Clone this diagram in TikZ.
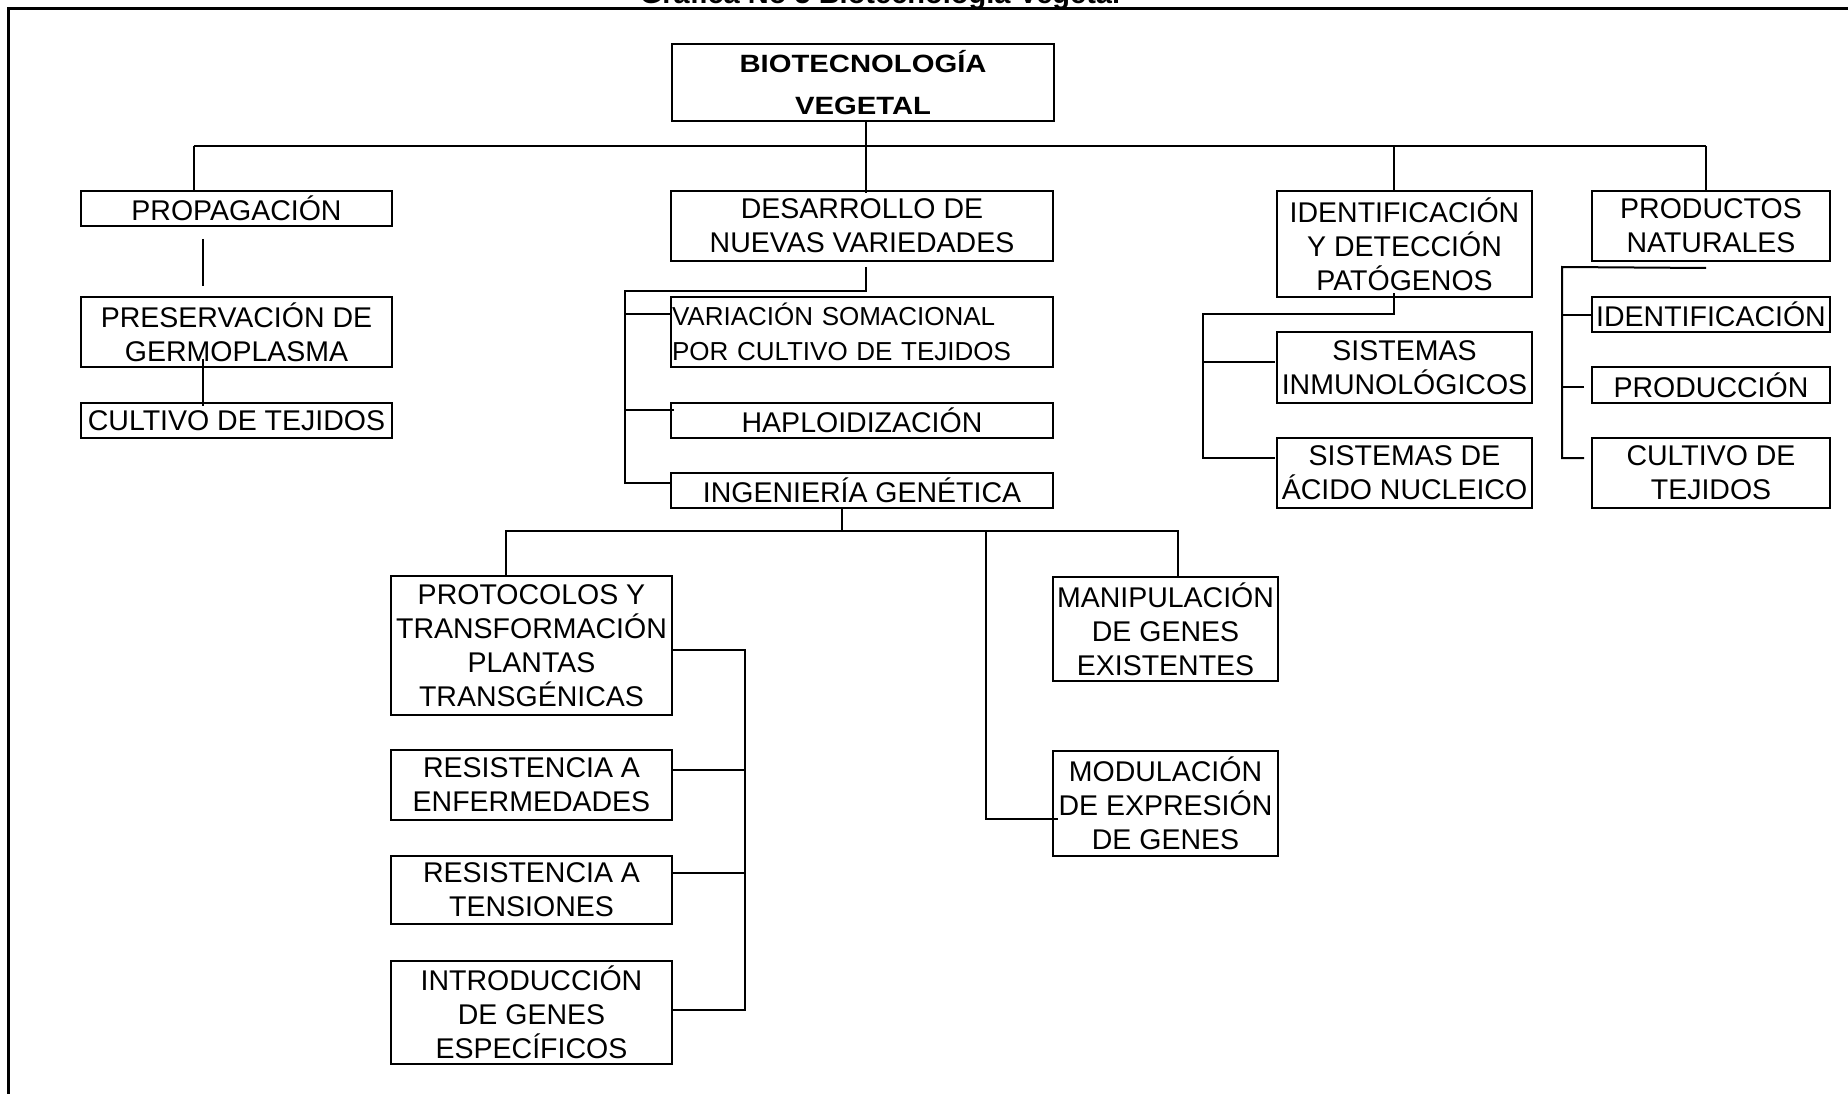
\documentclass[tikz,border=0pt]{standalone}
\usepackage{fontspec}
\setmainfont{Liberation Sans}
\newfontfamily\rootfont{Liberation Sans}[FakeStretch=1.17]

\begin{document}
\begin{tikzpicture}[x=1pt, y=-1pt,
		box/.style={draw, line width=2pt, inner sep=0pt, align=center, font=\fontsize{28.5}{34}\selectfont},
		link/.style={line width=2pt}]
	\useasboundingbox (0,0) rectangle (1848,1094);
	\node[anchor=base, font=\fontsize{29}{34}\selectfont\bfseries] (title) at (880,4) {Gráfica No 5 Biotecnología Vegetal};
	\draw[line width=3pt] (8,1094) -- (8,9) -- (1848,9);

	\node[box, minimum width=382pt, minimum height=77pt, font=\rootfont\bfseries\fontsize{25}{42}\selectfont] (root) at (863,82.5) {BIOTECNOLOGÍA\\VEGETAL};

	\node[box, minimum width=311pt, minimum height=35pt] (prop) at (236.5,208.5) {PROPAGACIÓN};
	\node[box, minimum width=382pt, minimum height=70pt] (desa) at (862,226) {DESARROLLO DE\\NUEVAS VARIEDADES};
	\node[box, minimum width=255pt, minimum height=106pt] (iden) at (1404.5,244) {IDENTIFICACIÓN\\Y DETECCIÓN\\PATÓGENOS};
	\node[box, minimum width=238pt, minimum height=70pt] (prod) at (1711,226) {PRODUCTOS\\NATURALES};

	\node[box, minimum width=311pt, minimum height=70pt] (pres) at (236.5,332) {PRESERVACIÓN DE\\GERMOPLASMA};
	\node[box, minimum width=311pt, minimum height=35pt] (cult) at (236.5,420.5) {CULTIVO DE TEJIDOS};

	\node[box, minimum width=382pt, minimum height=70pt, text width=380pt, align=left, font=\fontsize{26}{35}\selectfont] (vari) at (862,332) {VARIACIÓN SOMACIONAL\\POR CULTIVO DE TEJIDOS};
	\node[box, minimum width=382pt, minimum height=35pt] (hapl) at (862,420.5) {HAPLOIDIZACIÓN};
	\node[box, minimum width=382pt, minimum height=35pt] (inge) at (862,490.5) {INGENIERÍA GENÉTICA};

	\node[box, minimum width=255pt, minimum height=71pt] (inmu) at (1404.5,367.5) {SISTEMAS\\INMUNOLÓGICOS};
	\node[box, minimum width=255pt, minimum height=70pt] (acid) at (1404.5,473) {SISTEMAS DE\\ÁCIDO NUCLEICO};

	\node[box, minimum width=238pt, minimum height=35pt] (pide) at (1711,314.5) {IDENTIFICACIÓN};
	\node[box, minimum width=238pt, minimum height=36pt] (pprd) at (1711,385) {PRODUCCIÓN};
	\node[box, minimum width=238pt, minimum height=70pt] (pcul) at (1711,473) {CULTIVO DE\\TEJIDOS};

	\node[box, minimum width=281pt, minimum height=139pt] (prot) at (531.5,645.5) {PROTOCOLOS Y\\TRANSFORMACIÓN\\PLANTAS\\TRANSGÉNICAS};
	\node[box, minimum width=281pt, minimum height=70pt] (renf) at (531.5,785) {RESISTENCIA A\\ENFERMEDADES};
	\node[box, minimum width=281pt, minimum height=68pt] (rten) at (531.5,890) {RESISTENCIA A\\TENSIONES};
	\node[box, minimum width=281pt, minimum height=103pt] (intr) at (531.5,1012.5) {INTRODUCCIÓN\\DE GENES\\ESPECÍFICOS};

	\node[box, minimum width=225pt, minimum height=104pt] (mani) at (1165.5,629) {MANIPULACIÓN\\DE GENES\\EXISTENTES};
	\node[box, minimum width=225pt, minimum height=105pt] (modu) at (1165.5,803.5) {MODULACIÓN\\DE EXPRESIÓN\\DE GENES};

	% first level
	\coordinate (b1) at (193.5,146);
	\coordinate (b2) at (1706,146);
	\coordinate (b3) at (1394,146);
	\draw[link] (b1) -- (b2);
	\draw[link] ([xshift=3pt]root.south) -- ([xshift=4pt,yshift=-3pt]desa.north);
	\draw[link] (b1) -- ([yshift=-2pt]b1 |- prop.north);
	\draw[link] (b3) -- (b3 |- iden.north);
	\draw[link] (b2) -- (b2 |- prod.north);

	% propagacion
	\draw[link] ([xshift=-33.5pt,yshift=-12pt]prop.south) -- ([xshift=-33.5pt,yshift=10pt]pres.north);
	\draw[link] ([xshift=-33.5pt,yshift=9pt]pres.south) -- ([xshift=-33.5pt,yshift=-4pt]cult.north);

	% nuevas variedades
	\coordinate (dv) at (625,291);
	\coordinate (v1) at ([yshift=18pt]vari.west);
	\coordinate (v2) at ([xshift=4pt,yshift=10.5pt]hapl.west);
	\coordinate (v3) at ([yshift=8pt]inge.west);
	\draw[link] ([xshift=4pt,yshift=-5pt]desa.south) |- (dv) |- (v3);
	\draw[link] (v1) -- (v1 -| dv);
	\draw[link] (v2) -- (v2 -| dv);

	% patogenos
	\coordinate (iv) at (1202.5,314.3);
	\coordinate (i1) at ([xshift=-1pt,yshift=6pt]inmu.west);
	\coordinate (i2) at ([xshift=-1pt,yshift=15pt]acid.west);
	\draw[link] ([xshift=-10.5pt,yshift=5pt]iden.south) |- (iv) |- (i2);
	\draw[link] (i1) -- (i1 -| iv);

	% productos naturales
	\coordinate (pv) at (1562,267);
	\coordinate (n1) at (pide.west);
	\coordinate (n2) at ([xshift=-7pt,yshift=-2pt]pprd.west);
	\coordinate (n3) at ([xshift=-7pt,yshift=15pt]pcul.west);
	\draw[link] ([xshift=-5pt,yshift=-6pt]prod.south) -- (pv) |- (n3);
	\draw[link] (n1) -- (n1 -| pv);
	\draw[link] (n2) -- (n2 -| pv);

	% ingenieria genetica
	\coordinate (gbar) at (986,530.5);
	\coordinate (g0) at ([xshift=-20pt,yshift=2pt]inge.south);
	\coordinate (g1) at ([xshift=-26pt]prot.north);
	\coordinate (g2) at ([xshift=12pt,yshift=-1pt]mani.north);
	\coordinate (g3) at ([xshift=6pt,yshift=-15pt]modu.west);
	\draw[link] (g0) -- (g0 |- gbar);
	\draw[link] (g1) |- (g2 |- gbar) -- (g2);
	\draw[link] (gbar) |- (g3);

	% plantas transgenicas
	\coordinate (kv) at (745,0);
	\coordinate (k1) at ([yshift=-4pt]prot.east);
	\coordinate (k2) at ([yshift=15.4pt]renf.east);
	\coordinate (k3) at ([yshift=16.7pt]rten.east);
	\coordinate (k4) at ([yshift=2.5pt]intr.east);
	\draw[link] (k1) -| (kv |- k4) -- (k4);
	\draw[link] (k2) -- (k2 -| kv);
	\draw[link] (k3) -- (k3 -| kv);
\end{tikzpicture}
\end{document}
